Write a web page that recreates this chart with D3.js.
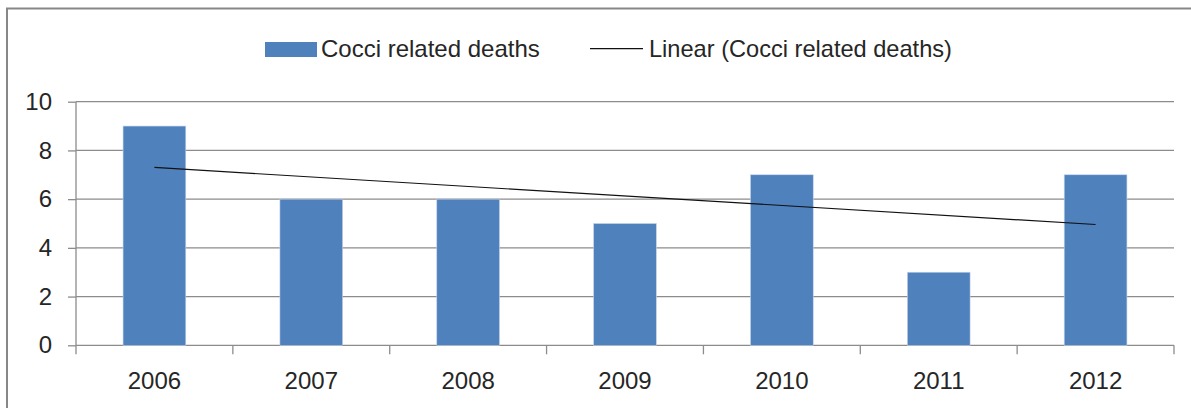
<!DOCTYPE html>
<html>
<head>
<meta charset="utf-8">
<script src="https://cdn.jsdelivr.net/npm/d3@7"></script>
<style>
  body { margin: 0; background: #fff; }
  .chart { width: 1191px; height: 408px; }
  text { font-family: 'Liberation Sans', Arial, sans-serif; fill: #262626; }
</style>
</head>
<body>
<div class="chart"></div>
<script>
// data
const years = ['2006', '2007', '2008', '2009', '2010', '2011', '2012'];
const deaths = [9, 6, 6, 5, 7, 3, 7];
// linear trendline end points (first and last year)
const trendYears = ['2006', '2012'];
const trendValues = [7.3, 4.96];
const yTicks = [0, 2, 4, 6, 8, 10];
const seriesName = 'Cocci related deaths';
const trendName = 'Linear (Cocci related deaths)';

const width = 1191, height = 408;
const plotLeft = 76, plotRight = 1174, plotTop = 101.7, plotBottom = 345.3;

const svg = d3.select('.chart')
	.append('svg')
	.attr('width', width)
	.attr('height', height);

// outer chart border (right and bottom fall off the picture)
svg.append('path')
	.attr('d', `M7,${height + 5}V8.5H${width + 5}`)
	.style('fill', 'none')
	.style('stroke', '#878787')
	.style('stroke-width', 2);

const x = d3.scaleBand()
	.domain(years)
	.range([plotLeft, plotRight])
	.paddingInner(0.6)
	.paddingOuter(0.3);

const y = d3.scaleLinear()
	.domain([0, 10])
	.range([plotBottom, plotTop]);

// y axis ticks + labels
const yAxis = svg.append('g')
	.attr('transform', `translate(${plotLeft},0)`)
	.call(d3.axisLeft(y).tickValues(yTicks).tickSize(8).tickPadding(16));
yAxis.select('.domain').remove();
yAxis.selectAll('.tick line').style('stroke', '#8c8c8c').style('stroke-width', 1.3);
yAxis.selectAll('.tick text').style('font-size', '24px').style('fill', '#262626')
	.style('font-family', "'Liberation Sans', Arial, sans-serif");

// gridlines
svg.append('g')
	.selectAll('line')
	.data(yTicks)
	.join('line')
	.attr('x1', plotLeft)
	.attr('x2', plotRight)
	.attr('y1', d => y(d))
	.attr('y2', d => y(d))
	.style('stroke', '#8c8c8c')
	.style('stroke-width', 1.3);

svg.append('line')
	.attr('x1', plotLeft).attr('x2', plotLeft)
	.attr('y1', plotTop).attr('y2', plotBottom)
	.style('stroke', '#8c8c8c')
	.style('stroke-width', 1.3);

// bars
svg.append('g')
	.selectAll('rect')
	.data(deaths)
	.join('rect')
	.attr('x', (d, i) => x(years[i]))
	.attr('y', d => y(d))
	.attr('width', x.bandwidth())
	.attr('height', d => y(0) - y(d))
	.style('fill', '#4f81bd')
	.style('stroke', '#c6d5ea')
	.style('stroke-width', 0.6);

// x axis: ticks between categories, labels centred
const step = x.step();
svg.append('g')
	.selectAll('line')
	.data(d3.range(years.length + 1))
	.join('line')
	.attr('x1', i => plotLeft + i * step)
	.attr('x2', i => plotLeft + i * step)
	.attr('y1', plotBottom)
	.attr('y2', plotBottom + 9)
	.style('stroke', '#8c8c8c')
	.style('stroke-width', 1.3);

const xAxis = svg.append('g')
	.attr('transform', `translate(0,${plotBottom})`)
	.call(d3.axisBottom(x).tickSize(0).tickPadding(27));
xAxis.select('.domain').remove();
xAxis.selectAll('.tick text').style('font-size', '24px').style('fill', '#262626')
	.style('font-family', "'Liberation Sans', Arial, sans-serif");

// trendline
const line = d3.line()
	.x((d, i) => x(trendYears[i]) + x.bandwidth() / 2)
	.y(d => y(d));
svg.append('path')
	.datum(trendValues)
	.attr('d', line)
	.style('fill', 'none')
	.style('stroke', '#111')
	.style('stroke-width', 1.2);

// legend
svg.append('rect')
	.attr('x', 265).attr('y', 42)
	.attr('width', 52).attr('height', 15)
	.style('fill', '#4f81bd');
svg.append('text')
	.attr('x', 321).attr('y', 57)
	.style('font-size', '24px')
	.text(seriesName);
svg.append('line')
	.attr('x1', 590).attr('x2', 643)
	.attr('y1', 48.7).attr('y2', 48.7)
	.style('stroke', '#111')
	.style('stroke-width', 1.2);
svg.append('text')
	.attr('x', 649).attr('y', 57)
	.style('font-size', '23.6px')
	.text(trendName);
</script>
</body>
</html>
